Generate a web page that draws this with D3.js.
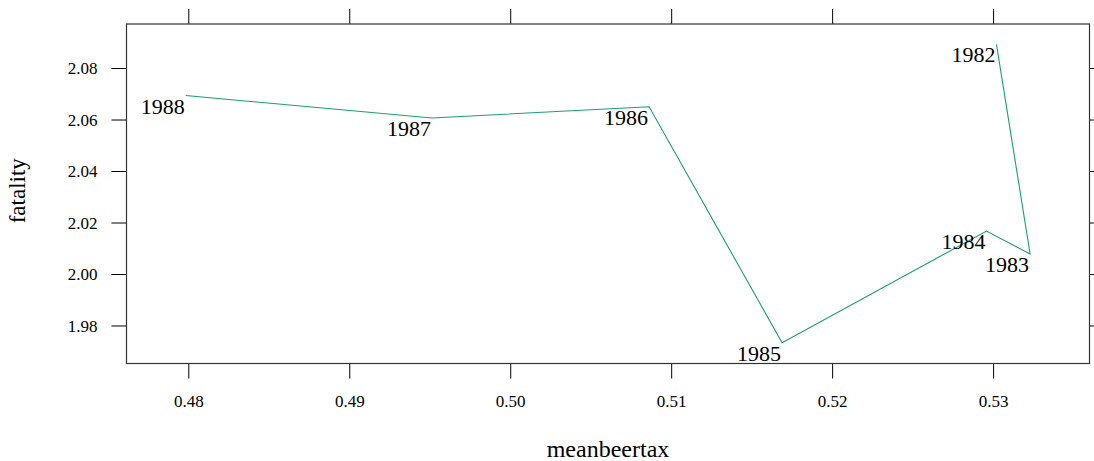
<!DOCTYPE html>
<html><head><meta charset="utf-8">
<script src="https://cdn.jsdelivr.net/npm/d3@7"></script>
<style>body{margin:0;background:#fff}svg{display:block}text{font-family:"Liberation Serif","DejaVu Serif",serif}</style>
</head><body>
<svg id="c" width="1094" height="461"></svg>
<script>
const years = ["1982","1983","1984","1985","1986","1987","1988"];
const meanbeertax = [0.53021, 0.5323, 0.52959, 0.51689, 0.50863, 0.49514, 0.47984];
const fatality = [2.0892, 2.00777, 2.0167, 1.97332, 2.06497, 2.0606, 2.0693];
const xTicks = [0.48, 0.49, 0.50, 0.51, 0.52, 0.53];
const yTicks = [1.98, 2.00, 2.02, 2.04, 2.06, 2.08];

const svg = d3.select("#c");
const L = 126.5, R = 1089.5, T = 24, B = 363.5;
const x = d3.scaleLinear().domain([0.47616, 0.53599]).range([L, R]);
const y = d3.scaleLinear().domain([1.96524, 2.0971]).range([B, T]);

const fmt = d3.format(".2f");
const tl = 15;
const gB = svg.append("g").attr("transform", `translate(0,${B})`)
  .call(d3.axisBottom(x).tickValues(xTicks).tickFormat(fmt).tickSize(tl).tickPadding(16));
const gT = svg.append("g").attr("transform", `translate(0,${T})`)
  .call(d3.axisTop(x).tickValues(xTicks).tickFormat("").tickSize(tl));
const gL = svg.append("g").attr("transform", `translate(${L},0)`)
  .call(d3.axisLeft(y).tickValues(yTicks).tickFormat(fmt).tickSize(tl).tickPadding(14));
const gR = svg.append("g").attr("transform", `translate(${R},0)`)
  .call(d3.axisRight(y).tickValues(yTicks).tickFormat("").tickSize(tl));
[gB, gT, gL, gR].forEach(g => {
  g.select(".domain").remove();
  g.selectAll(".tick line").attr("stroke", "#000").attr("stroke-width", 1);
  g.selectAll("text").attr("font-family", "Liberation Serif").attr("font-size", 17).attr("fill", "#000");
});
gL.selectAll("text").attr("dy", "0.35em");

svg.append("rect").attr("x", L).attr("y", T).attr("width", R - L).attr("height", B - T)
  .attr("fill", "none").attr("stroke", "#333").attr("stroke-width", 1.2);

const pts = years.map((yr, i) => ({yr, x: meanbeertax[i], y: fatality[i]}));
svg.append("path").datum(pts)
  .attr("d", d3.line().x(d => x(d.x)).y(d => y(d.y)))
  .attr("fill", "none").attr("stroke", "#1b9e77").attr("stroke-width", 1.1);

svg.append("g").selectAll("text").data(pts).join("text")
  .attr("x", d => x(d.x) - 1).attr("y", d => y(d.y) + 18)
  .attr("text-anchor", "end").attr("font-size", 22).attr("fill", "#000")
  .text(d => d.yr);

svg.append("text").attr("x", 608).attr("y", 457).attr("text-anchor", "middle")
  .attr("font-size", 24).text("meanbeertax");
svg.append("text").attr("transform", `translate(25,${(T + B) / 2 - 3}) rotate(-90)`)
  .attr("text-anchor", "middle").attr("font-size", 23).text("fatality");
</script>
</body></html>
